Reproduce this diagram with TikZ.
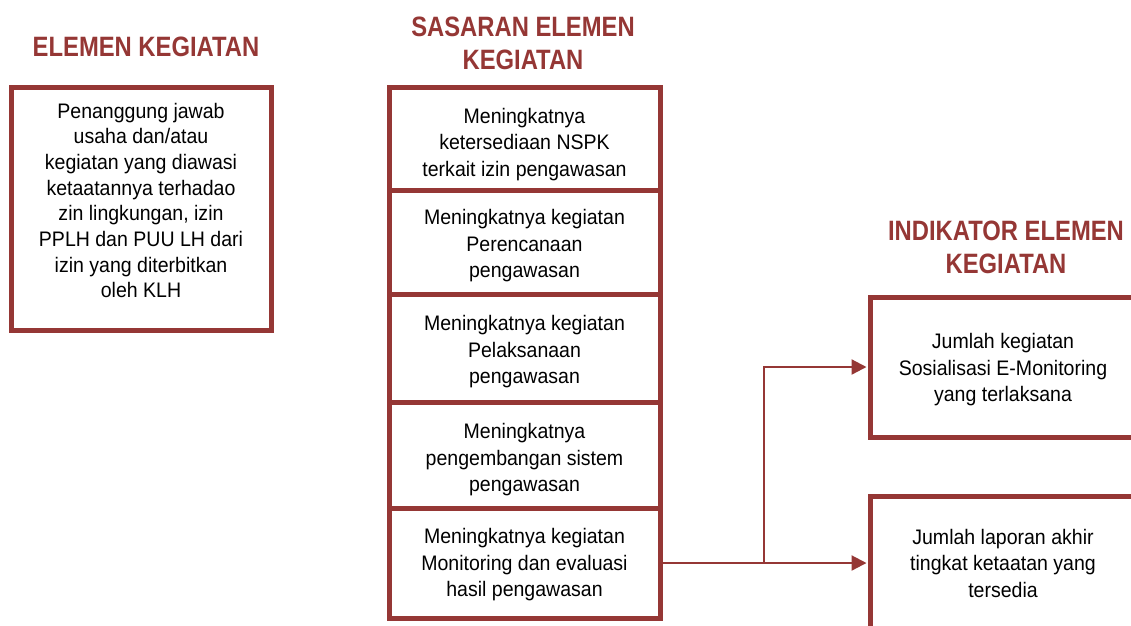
\documentclass[tikz,border=0pt]{standalone}
\usepackage{fontspec}
\setmainfont{Liberation Sans}
\newfontfamily\bodyfont[FakeStretch=0.93]{Liberation Sans}
\newfontfamily\headfont[FakeStretch=0.85]{Liberation Sans Bold}
\usetikzlibrary{arrows.meta}
\definecolor{maroon}{RGB}{149,55,53}
% move a centred block of lines up/down without changing its size
\newcommand\liftby[2]{\raisebox{#1}[\height][\depth]{\parbox{260pt}{\centering #2}}}
\begin{document}
\begin{tikzpicture}[x=1pt,y=-1pt,
  box/.style={draw=maroon,line width=5pt,fill=white,rectangle,inner sep=0pt,
    align=center,font=\bodyfont\fontsize{21}{26.5}\selectfont,text=black},
  heading/.style={align=center,text=maroon,inner sep=0pt,
    font=\headfont\fontsize{28}{33}\selectfont},
  link/.style={draw=maroon,line width=2.2pt},
  arrowlink/.style={link,-{Triangle[length=15pt,width=15pt]},shorten >=1pt}]
\useasboundingbox (0,0) rectangle (1131,625);

% column headings
\node[heading] (h1) at (146,47) {ELEMEN KEGIATAN};
\node[heading] (h2) at (523,43) {SASARAN ELEMEN\\KEGIATAN};
\node[heading] (h3) at (1006,247) {INDIKATOR ELEMEN\\KEGIATAN};

% element of the activity
\node[box,minimum width=258pt,minimum height=243pt] (el) at (141,208.5)
  {\liftby{8pt}{\fontsize{21}{25.7}\selectfont
   Penanggung jawab\\usaha dan/atau\\kegiatan yang diawasi\\ketaatannya terhadao\\zin lingkungan, izin\\PPLH dan PUU LH dari\\izin yang diterbitkan\\oleh KLH}};

% targets of the activity element
\node[box,minimum width=271pt,minimum height=103pt] (m1) at (524.5,138.5)
  {\liftby{-6pt}{Meningkatnya\\ketersediaan NSPK\\terkait izin pengawasan}};
\node[box,minimum width=271pt,minimum height=104pt] (m2) at (524.5,242)
  {\liftby{-4pt}{Meningkatnya kegiatan\\Perencanaan\\pengawasan}};
\node[box,minimum width=271pt,minimum height=108pt] (m3) at (524.5,348)
  {\liftby{-4pt}{Meningkatnya kegiatan\\Pelaksanaan\\pengawasan}};
\node[box,minimum width=271pt,minimum height=106pt] (m4) at (524.5,455)
  {\liftby{-5pt}{Meningkatnya\\pengembangan sistem\\pengawasan}};
\node[box,minimum width=271pt,minimum height=110pt] (m5) at (524.5,563)
  {\liftby{-2pt}{Meningkatnya kegiatan\\Monitoring dan evaluasi\\hasil pengawasan}};

% indicators
\node[box,minimum width=266pt,minimum height=140pt] (r1) at (1003,367)
  {\liftby{-3pt}{Jumlah kegiatan\\Sosialisasi E-Monitoring\\yang terlaksana}};
\node[box,minimum width=266pt,minimum height=138pt] (r2) at (1003,565)
  {\liftby{2pt}{Jumlah laporan akhir\\tingkat ketaatan yang\\tersedia}};

% connectors
\coordinate (split) at (764,563);
\draw[arrowlink] (m5.east) -- (r2.west |- m5.east);
\draw[arrowlink] (split) |- (r1.west);
\end{tikzpicture}
\end{document}
